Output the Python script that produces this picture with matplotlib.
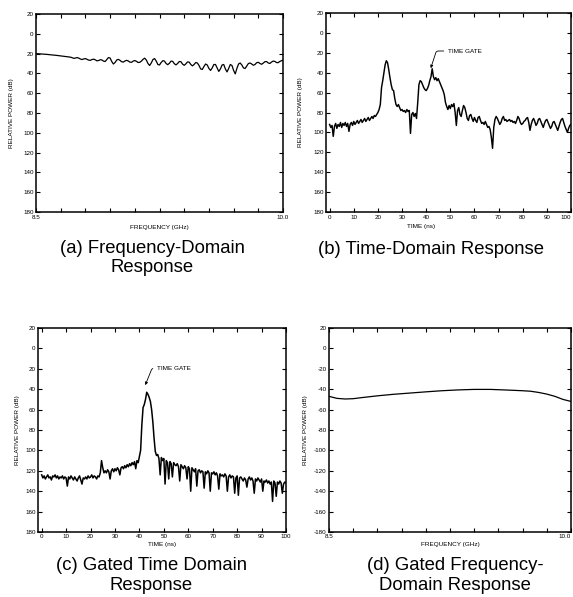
import numpy as np
import matplotlib
matplotlib.use("Agg")
import matplotlib.pyplot as plt

plt.rcParams['font.family'] = ['Liberation Sans', 'DejaVu Sans']

# ---------------- data ----------------
# (a) frequency-domain response, 8.5 .. 10.0 GHz, 0.01 GHz steps
freq_a_start, freq_a_stop = 8.5, 10.0
power_a = [
    -20.0, -20.1, -20.2, -20.3, -20.4, -20.5, -20.7, -20.9, -21.0, -21.2, -21.4,
    -21.5, -21.7, -21.9, -22.0, -22.2, -22.4, -22.6, -22.8, -23.0, -23.3,
    -23.6, -24.2, -24.8, -24.5, -24.0, -24.6, -25.5, -26.0, -25.4, -25.0, -25.8,
    -26.6, -26.8, -26.0, -25.6,
    -26.3, -27.3, -27.0, -26.2, -26.4, -27.6, -28.0,
    -26.0, -24.0, -24.5, -28.0, -30.5, -29.0, -26.5,
    -25.8, -26.8, -28.2, -28.6, -27.5, -26.8, -27.4, -28.6, -28.8, -27.6, -27.0,
    -27.8, -29.0, -28.8, -27.6,
    -25.8, -24.6, -26.5, -30.0, -32.0, -29.5, -26.0, -25.0, -27.5, -31.0, -31.5,
    -29.0, -27.2, -27.5, -30.0, -31.2, -29.8, -27.6, -27.8, -30.2, -31.4, -30.0,
    -28.0, -28.2, -30.6, -31.8, -30.4, -28.4, -28.6, -31.0, -32.4, -31.0, -29.0,
    -29.5, -32.0, -35.5, -36.0, -33.0, -30.5, -31.5, -35.0, -37.0, -34.5, -31.0,
    -31.0, -34.5, -38.0, -35.5, -31.5, -31.0, -35.5, -38.5, -35.0, -31.0, -32.0,
    -37.0, -40.5,
    -35.0, -30.5, -29.5, -31.5, -34.5, -35.0, -32.5, -30.0, -29.5,
    -30.5, -31.8, -31.0, -29.2, -28.8, -30.0, -30.8, -29.6, -28.2, -28.0, -29.4,
    -30.0, -28.6, -27.6, -27.8, -29.0, -29.2, -28.0, -27.2, -26.8,
]

# (b) time-domain response, 0 .. 100 ns, 0.5 ns steps
time_step = 0.5
power_b = [
    -92, -95, -93, -104, -94, -91, -96, -92, -94, -90, -95, -91, -93, -90, -94, -91, -99, -92, -90, -93,
    -89, -92, -90, -88, -91, -89, -87, -90, -88, -86, -89, -87, -85, -88, -86, -84, -86, -83, -84, -82,
    -80, -77, -72, -55, -48, -40, -32, -28, -30, -37, -45, -52, -57, -58, -66, -72, -74, -72, -75, -78,
    -77, -79, -78, -80, -77, -79, -78, -101, -82, -80, -84, -81, -86, -70, -52, -48, -49, -52, -55, -57,
    -58, -56, -53, -48, -44, -36, -44, -47, -45, -48, -46, -49, -52, -55, -58, -62, -70, -74, -77, -73,
    -76, -72, -74, -71, -80, -93, -78, -75, -82, -84, -78, -73, -75, -80, -86, -88, -83, -82, -86, -89,
    -85, -88, -90, -85, -84, -88, -91, -90, -92, -89, -92, -95, -94, -97, -105, -116, -95, -87, -84, -86,
    -89, -92, -90, -86, -84, -88, -87, -89, -88, -87, -89, -88, -90, -89, -91, -88, -84, -86, -90, -92,
    -91, -89, -88, -86, -85, -90, -98, -92, -88, -86, -89, -93, -91, -87, -86, -89, -92, -95, -91, -88,
    -87, -90, -93, -96, -94, -90, -89, -92, -95, -98, -94, -90, -87, -86, -90, -94, -97, -100, -96, -93,
    -92,
]

# (c) gated time-domain response, 0 .. 100 ns, 0.5 ns steps
power_c = [
    -124, -127, -125, -128, -126, -124, -127, -126, -129, -125, -126, -124, -127, -125, -128, -126, -127, -125, -128, -126,
    -127, -135, -126, -128, -125, -127, -129, -126, -128, -130, -127, -125, -129, -133, -127, -128, -126, -128, -125, -127,
    -126, -124, -127, -125, -126, -128, -125, -126, -122, -110, -117, -122, -120, -122, -119, -121, -128, -120, -118, -121,
    -118, -120, -117, -119, -124, -117, -116, -118, -115, -117, -114, -116, -113, -115, -112, -114, -111, -118, -110, -112,
    -106, -100, -75, -58, -55, -50, -43, -45, -48, -52, -60, -72, -88, -101, -105, -104, -108, -124, -107, -110,
    -108, -133, -110, -112, -128, -111, -113, -126, -112, -114, -115, -113, -116, -130, -114, -116, -118, -115, -117, -128,
    -116, -118, -140, -117, -119, -121, -118, -135, -120, -119, -122, -120, -121, -137, -121, -123, -120, -122, -140, -122,
    -123, -121, -124, -122, -125, -138, -123, -125, -124, -126, -123, -125, -140, -126, -124, -127, -125, -126, -142, -127,
    -125, -144, -127, -126, -128, -130, -127, -129, -136, -128, -126, -129, -127, -130, -142, -128, -130, -127, -129, -131,
    -128, -140, -130, -131, -129, -132, -130, -133, -131, -150, -130, -132, -145, -131, -133, -130, -132, -142, -133, -131,
    -132,
]

# (d) gated frequency-domain response
freq_d = [8.50, 8.55, 8.60, 8.65, 8.70, 8.80, 8.90, 9.00, 9.10, 9.20, 9.30,
          9.40, 9.50, 9.60, 9.70, 9.75, 9.80, 9.85, 9.90, 9.95, 10.00]
power_d = [-47.0, -49.0, -49.6, -49.3, -48.3, -46.5, -45.0, -43.8, -42.6, -41.5, -40.7,
           -40.2, -40.2, -40.8, -41.5, -42.0, -43.2, -44.8, -47.0, -50.0, -52.0]

y_ticks = [20, 0, -20, -40, -60, -80, -100, -120, -140, -160, -180]
y_labels_abc = ["20", "0", "20", "40", "60", "80", "100", "120", "140", "160", "180"]
y_labels_d = ["20", "0", "-20", "-40", "-60", "-80", "-100", "-120", "-140", "-160", "-180"]
time_ticks = [0, 10, 20, 30, 40, 50, 60, 70, 80, 90, 100]
time_labels = ["0", "10", "20", "30", "40", "50", "60", "70", "80", "90", "100"]
freq_ticks = [8.5, 8.65, 8.8, 8.95, 9.1, 9.25, 9.4, 9.55, 9.7, 9.85, 10.0]
freq_labels = ["8.5", "", "", "", "", "", "", "", "", "", "10.0"]

captions = {
    "a": ["(a) Frequency-Domain", "Response"],
    "b": ["(b) Time-Domain Response"],
    "c": ["(c) Gated Time Domain", "Response"],
    "d": ["(d) Gated Frequency-", "Domain Response"],
}

# ---------------- figure ----------------
W, H = 573, 597
fig = plt.figure(figsize=(W / 100, H / 100), dpi=100)


def px_axes(left, top, right, bottom):
    return fig.add_axes([left / W, 1 - bottom / H, (right - left) / W, (bottom - top) / H])


def style(ax, ylabels, ylab_dx, xlab_dy, xlab_x=0.5):
    ax.set_ylim(-180, 20)
    ax.set_yticks(y_ticks)
    ax.set_yticklabels(ylabels)
    ax.tick_params(direction='in', top=True, right=True, length=3.2, width=0.8,
                   labelsize=4.5, pad=1.8, colors='black')
    for s in ax.spines.values():
        s.set_linewidth(1.1)
    ax.set_ylabel("RELATIVE POWER (dB)", fontsize=4.6)
    bb = ax.get_position()
    ax.yaxis.set_label_coords(ylab_dx / (bb.width * W), 0.5)
    ax.xaxis.set_label_coords(xlab_x, xlab_dy / (bb.height * H))


def keep_last_label_inside(ax):
    labels = ax.get_xticklabels()
    labels[-1].set_horizontalalignment('right')


# (a)
ax_a = px_axes(36, 14, 283, 212)
fa = np.linspace(freq_a_start, freq_a_stop, len(power_a))
ax_a.plot(fa, power_a, color='black', lw=0.9)
ax_a.set_xlim(8.5, 10.0)
ax_a.set_xticks(freq_ticks)
ax_a.set_xticklabels(freq_labels)
ax_a.set_xlabel("FREQUENCY (GHz)", fontsize=4.6)
style(ax_a, y_labels_abc, -22, -13)

# (b)
ax_b = px_axes(326, 13, 571, 212)
tb = np.arange(len(power_b)) * time_step
ax_b.plot(tb, power_b, color='black', lw=1.05)
ax_b.set_xlim(-1.5, 100)
ax_b.set_xticks(time_ticks)
ax_b.set_xticklabels(time_labels)
ax_b.set_xlabel("TIME (ns)", fontsize=4.6)
style(ax_b, y_labels_abc, -23, -12, xlab_x=0.388)
keep_last_label_inside(ax_b)
ax_b.annotate("TIME GATE", xy=(41.9, -35.5), xytext=(49.0, -18.2),
              fontsize=4.6, va='center', ha='left',
              arrowprops=dict(arrowstyle='-|>', color='black', lw=0.6,
                              mutation_scale=4, shrinkA=1, shrinkB=0,
                              connectionstyle="angle,angleA=0,angleB=72,rad=2"))

# (c)
ax_c = px_axes(38, 328, 286, 532)
tc = np.arange(len(power_c)) * time_step
ax_c.plot(tc, power_c, color='black', lw=1.1)
ax_c.set_xlim(-1.5, 100)
ax_c.set_xticks(time_ticks)
ax_c.set_xticklabels(time_labels)
ax_c.set_xlabel("TIME (ns)", fontsize=4.6)
style(ax_c, y_labels_abc, -18, -10)
ax_c.annotate("TIME GATE", xy=(42.4, -36.0), xytext=(47.2, -19.5),
              fontsize=4.6, va='center', ha='left',
              arrowprops=dict(arrowstyle='-|>', color='black', lw=0.6,
                              mutation_scale=4, shrinkA=1, shrinkB=0,
                              connectionstyle="angle,angleA=0,angleB=68,rad=2"))

# (d)
ax_d = px_axes(329, 328, 571, 532)
ax_d.plot(freq_d, power_d, color='black', lw=0.9)
ax_d.set_xlim(8.5, 10.0)
ax_d.set_xticks(freq_ticks)
ax_d.set_xticklabels(freq_labels)
ax_d.set_xlabel("FREQUENCY (GHz)", fontsize=4.6)
style(ax_d, y_labels_d, -21, -10)
keep_last_label_inside(ax_d)

# captions
cap_fs = 13.3
def caption(lines, cx, y0, dy=19):
    for i, t in enumerate(lines):
        fig.text(cx / W, 1 - (y0 + i * dy) / H, t, ha='center', va='center',
                 fontsize=cap_fs, color='black')

caption(captions["a"], 152, 249)
caption(captions["b"], 431, 250)
caption(captions["c"], 151, 566)
caption(captions["d"], 455, 566)

fig.savefig("out.png", dpi=100, facecolor='white')
